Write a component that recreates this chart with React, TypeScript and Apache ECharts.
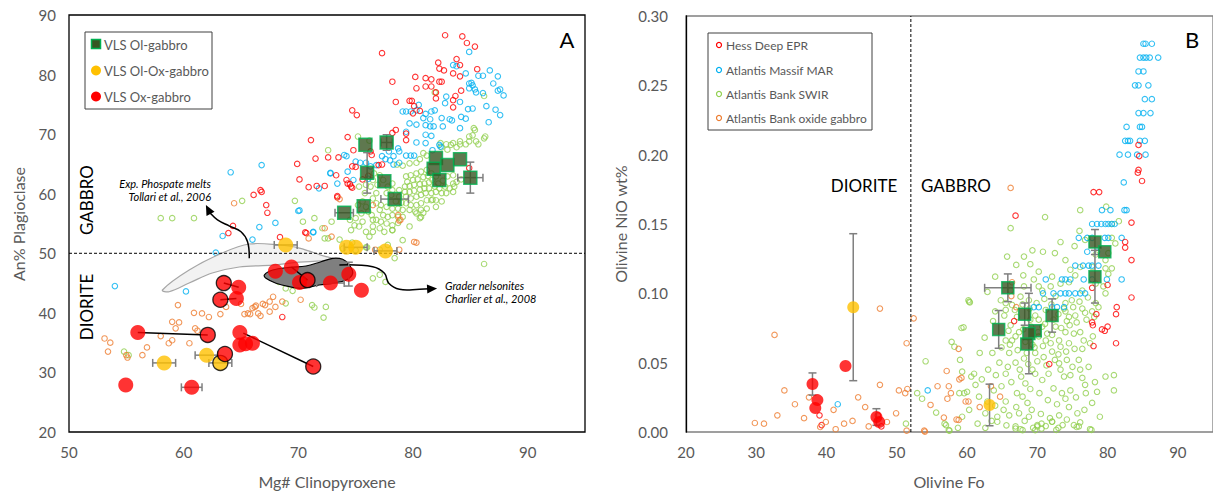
import React, { useEffect, useRef } from "react";
import * as echarts from "echarts";

const FONT = "Lato, 'Open Sans', sans-serif";
const C_RED = "#FF0000";
const C_BLUE = "#00B0F0";
const C_GREEN = "#92D050";
const C_ORANGE = "#ED7D31";
const C_YELLOW = "#FFC000";
const C_SQ = "#375623";
const C_SQB = "#00B050";
const C_ERR = "#7F7F7F";
const C_TXT = "#595959";

// ---------- Panel A : Mg# Cpx vs An% Plagioclase ----------
const A_X_TICKS = [50, 60, 70, 80, 90];
const A_Y_TICKS = [20, 30, 40, 50, 60, 70, 80, 90];

const A_HESS = [
  [82.8, 86.6], [84.3, 86.4], [84.7, 85.3], [85.4, 84.7], [77.3, 83.6], [83.8, 82.6], [82.2, 82.0], [84.1, 81.6],
  [82.3, 81.0], [82.7, 80.7], [83.5, 80.2], [84.1, 79.7], [85.6, 80.9], [80.2, 79.6], [81.1, 79.4], [81.6, 79.2],
  [82.3, 78.8], [82.5, 78.8], [78.2, 78.8], [80.3, 77.7], [81.1, 78.0], [81.6, 78.0], [82.0, 77.0], [82.0, 76.0],
  [83.7, 76.4], [83.5, 75.7], [84.2, 77.3], [79.7, 75.6], [79.9, 75.6], [78.5, 75.4], [83.5, 74.5], [80.1, 74.7],
  [80.6, 73.9], [74.7, 74.0], [75.1, 73.2], [80.0, 73.5], [78.5, 70.7], [78.2, 70.2], [79.4, 70.1], [79.4, 69.0],
  [71.1, 69.0], [74.3, 69.5], [74.8, 67.3], [71.5, 65.9], [72.6, 66.1], [73.5, 66.1], [69.9, 65.0], [76.3, 67.1],
  [76.4, 66.5], [74.7, 64.6], [75.0, 64.5], [77.0, 64.8], [77.3, 64.9], [73.3, 63.1], [70.1, 62.4], [74.2, 62.3],
  [70.9, 61.1], [71.6, 61.3], [72.3, 61.3], [74.3, 61.7], [74.6, 61.2], [75.6, 62.4], [76.1, 63.0], [73.4, 59.6],
  [70.7, 53.4], [84.9, 64.3], [66.1, 59.8], [66.7, 60.6], [66.8, 60.3], [67.2, 58.1], [67.3, 56.8], [64.3, 54.6],
  [63.9, 53.4], [70.6, 53.5], [68.4, 52.7], [73.4, 59.4], [74.5, 61.6], [74.7, 61.0], [68.6, 39.3]
];

const A_MAR = [
  [84.9, 83.8], [83.5, 81.6], [83.8, 81.4], [84.6, 80.2], [85.7, 79.8], [86.1, 79.8], [86.7, 80.7], [87.4, 79.7],
  [87.0, 78.5], [84.9, 78.5], [85.1, 78.6], [85.2, 78.2], [84.9, 77.7], [85.4, 77.5], [85.5, 77.0], [86.1, 76.9],
  [87.6, 77.5], [87.9, 76.5], [87.4, 77.3], [82.9, 76.3], [82.8, 75.2], [84.1, 75.4], [85.2, 74.3], [84.8, 74.2],
  [86.4, 74.7], [87.2, 74.1], [87.6, 73.2], [84.2, 72.9], [84.6, 72.6], [81.9, 74.0], [81.6, 73.8], [81.1, 73.4],
  [80.5, 74.9], [80.3, 74.0], [79.1, 73.8], [79.4, 73.8], [79.8, 73.8], [80.9, 72.7], [81.5, 72.5], [82.5, 72.7],
  [83.2, 72.5], [83.4, 72.3], [84.1, 71.0], [86.6, 72.0], [79.7, 71.8], [80.3, 71.6], [81.1, 71.5], [81.5, 71.3],
  [81.8, 71.3], [82.6, 71.3], [79.4, 70.4], [81.1, 69.9], [81.6, 69.7], [80.3, 68.6], [81.1, 68.5], [81.7, 67.3],
  [82.3, 68.2], [82.4, 67.9], [78.7, 67.6], [78.8, 67.1], [77.9, 67.1], [78.3, 66.3], [77.3, 66.3], [77.6, 65.8],
  [78.0, 65.6], [78.3, 64.9], [78.8, 65.2], [79.4, 66.4], [79.8, 66.4], [80.1, 66.4], [75.0, 65.4], [75.4, 65.2],
  [75.9, 65.2], [76.3, 64.6], [76.8, 64.8], [74.3, 63.7], [74.0, 66.5], [74.2, 66.3], [72.8, 63.5], [73.4, 61.7],
  [71.8, 60.9], [70.1, 57.2], [71.3, 53.6], [74.8, 62.3], [76.1, 62.5], [64.1, 63.6], [54.0, 44.5], [66.8, 64.8],
  [72.8, 63.4], [70.0, 57.1], [68.0, 55.1], [66.6, 54.4], [63.4, 52.9], [66.0, 52.3], [62.8, 50.1], [60.2, 43.6],
  [71.3, 53.5]
];

const A_SWIR = [
  [86.2, 76.4], [85.4, 70.7], [86.2, 69.3], [85.5, 68.8], [84.9, 68.8], [84.6, 68.3], [84.1, 68.8], [84.1, 68.3],
  [85.7, 68.3], [83.5, 68.5], [83.3, 68.2], [82.9, 68.3], [82.4, 68.5], [82.5, 67.8], [83.0, 67.4], [83.8, 67.8],
  [72.6, 67.3], [75.2, 69.6], [76.2, 68.9], [80.9, 66.8], [81.2, 66.4], [80.6, 65.8], [80.3, 65.2], [79.7, 65.1],
  [79.1, 64.7], [78.6, 64.9], [84.9, 69.6], [85.2, 69.8], [81.9, 77.0], [85.3, 71.0], [86.3, 69.6],
  [79.4, 62.9], [79.8, 63.1], [80.3, 63.4], [80.7, 63.7], [81.2, 64.0], [81.6, 63.4], [82.0, 62.9], [79.5, 62.0],
  [80.0, 62.3], [80.4, 62.4], [80.9, 62.8], [81.3, 63.0], [81.7, 62.3], [82.2, 61.7], [82.6, 62.2], [83.0, 62.9],
  [83.5, 63.1], [83.5, 61.7], [79.3, 61.2], [79.7, 61.3], [80.1, 61.5], [80.6, 61.6], [81.0, 61.7], [81.4, 61.9],
  [81.9, 61.2], [82.3, 60.9], [82.8, 61.2], [83.2, 60.9], [83.6, 61.2], [78.8, 60.6], [79.3, 60.3], [79.7, 60.3],
  [80.1, 60.5], [80.6, 60.7], [81.0, 60.9], [81.4, 60.9], [81.1, 60.1], [81.6, 60.1], [82.0, 60.3], [82.5, 60.1],
  [78.8, 59.5], [79.4, 59.5], [79.8, 59.2], [80.3, 59.5], [80.7, 59.8], [82.9, 60.1], [83.5, 60.3], [83.8, 62.0],
  [84.2, 62.4], [78.2, 61.7], [77.8, 61.2], [78.2, 60.6], [77.7, 60.1], [78.1, 59.8], [78.5, 58.7], [79.0, 58.5],
  [79.4, 58.4], [79.8, 58.1], [80.3, 58.1], [80.7, 58.4], [81.2, 58.9], [81.6, 58.9], [82.0, 58.9], [82.5, 58.7],
  [82.0, 57.8], [81.2, 57.5], [80.7, 57.3], [80.2, 57.0], [79.7, 57.3], [79.1, 57.3], [78.7, 57.5], [78.2, 57.5],
  [77.7, 57.8], [77.2, 58.1], [76.8, 58.4], [77.1, 57.3], [77.4, 56.4], [77.8, 56.1], [78.2, 56.4], [78.7, 56.1],
  [79.1, 56.1], [76.8, 55.6], [77.2, 55.3], [77.7, 55.0], [78.2, 54.7], [78.7, 55.1], [76.5, 54.5], [77.1, 54.2],
  [77.5, 53.6], [78.2, 53.9], [80.7, 56.1], [80.3, 56.7], [80.9, 56.8], [76.2, 52.8], [75.9, 53.6], [75.6, 55.3],
  [75.5, 56.7], [75.0, 55.9], [74.9, 54.7], [74.6, 53.9], [74.5, 55.6], [75.2, 58.1], [75.6, 58.7], [75.9, 57.8],
  [76.4, 56.4], [76.1, 57.0], [76.5, 59.2], [76.8, 60.1], [76.3, 61.2], [75.9, 61.5], [75.3, 61.2], [75.8, 60.1],
  [77.1, 63.1], [76.6, 63.4], [76.5, 62.3], [76.9, 61.5], [77.4, 62.3],
  [58.0, 55.9], [59.0, 55.9], [60.9, 55.9], [65.1, 58.8], [69.7, 58.8], [70.4, 55.3], [71.4, 55.9], [72.1, 54.2],
  [72.9, 55.3], [68.0, 46.6], [68.3, 45.2], [69.5, 43.7], [71.2, 41.3], [72.4, 41.0], [77.1, 46.4], [77.6, 45.2],
  [78.4, 49.2], [77.1, 50.6], [73.9, 50.8], [72.6, 52.5], [75.0, 50.5], [76.0, 51.0], [72.3, 52.5], [73.6, 52.3],
  [74.7, 51.8], [75.9, 51.0], [77.8, 51.4], [79.1, 52.2], [76.5, 53.6], [75.3, 54.5], [78.2, 53.9], [79.7, 54.5],
  [80.6, 55.9], [81.7, 59.0], [76.5, 55.6], [69.8, 44.7], [68.9, 44.1], [76.5, 45.8], [54.8, 33.5], [55.2, 32.9],
  [68.9, 41.6], [71.4, 40.9], [72.2, 39.2], [86.2, 48.2]
];

const A_OXIDE = [
  [59.5, 41.3], [60.9, 40.0], [61.6, 39.9], [62.2, 39.3], [63.2, 39.8], [63.7, 41.0], [65.0, 41.5], [65.3, 39.8],
  [65.6, 39.9], [65.8, 39.8], [66.0, 40.8], [66.3, 41.2], [66.5, 39.9], [66.7, 39.5], [66.9, 41.5], [67.5, 40.2],
  [67.5, 41.9], [68.0, 41.0], [59.0, 38.5], [59.6, 38.4], [59.3, 37.4], [61.0, 37.4], [61.2, 37.0], [58.0, 36.1],
  [59.0, 35.4], [58.7, 34.9], [60.5, 34.9], [53.1, 35.7], [53.6, 35.0], [53.4, 33.5], [55.0, 32.9], [55.1, 32.5],
  [56.4, 32.9], [56.8, 34.2], [70.2, 42.2], [64.4, 58.4], [70.9, 52.5], [72.9, 52.8], [80.1, 51.9], [78.8, 55.5],
  [67.8, 42.7], [67.1, 41.3], [66.2, 41.0], [68.6, 41.9], [74.2, 46.4], [76.7, 50.6], [73.6, 59.1], [78.7, 56.4],
  [78.9, 55.6], [80.3, 51.8], [72.3, 54.2], [76.5, 58.1], [78.8, 50.6]
];

// VLS samples : [x, y, xErr, yErr, blackOutline]
const A_OL_GABBRO = [
  [75.85, 68.2, 0, 0, 0], [77.7, 68.6, 0.5, 1.3, 0], [76.0, 63.5, 0, 3.4, 0], [77.5, 62.1, 0, 0, 0],
  [78.4, 59.1, 1.2, 0, 0], [75.7, 57.9, 0, 0, 0], [74.0, 56.8, 0.8, 0, 0], [82.0, 66.0, 0, 0, 0],
  [81.8, 64.2, 0, 0, 0], [83.0, 64.8, 0, 0, 0], [84.1, 65.8, 0, 0, 0], [82.3, 62.3, 0, 0, 0],
  [85.0, 62.7, 1.1, 2.6, 0]
];
const A_OL_OX_GABBRO = [
  [68.9, 51.4, 1.0, 0, 0], [74.2, 51.0, 0, 0, 0], [75.0, 51.0, 1.0, 0, 0], [77.6, 50.4, 1.0, 0, 0],
  [58.3, 31.6, 1.0, 0, 0], [62.0, 32.9, 1.0, 0, 0], [63.2, 31.6, 1.0, 0, 1]
];
const A_OX_GABBRO = [
  [68.0, 47.0, 0, 0, 0], [69.4, 47.7, 0, 0, 0], [70.1, 45.1, 0, 0, 0], [70.8, 45.5, 0, 0, 1],
  [72.8, 45.0, 1.2, 0, 0], [74.4, 46.5, 0, 2.0, 0], [75.5, 43.8, 0, 0, 0], [63.5, 45.0, 0, 0, 1],
  [64.8, 44.3, 0, 0, 0], [63.2, 42.2, 0, 0, 1], [64.6, 42.4, 0, 0, 0], [56.0, 36.7, 0, 0, 0],
  [62.1, 36.3, 0, 0, 1], [64.9, 36.7, 0, 0, 0], [64.9, 34.6, 0, 0, 0], [65.4, 34.8, 0, 0, 0],
  [66.0, 34.9, 0, 0, 0], [63.6, 33.1, 0, 0, 1], [71.3, 31.0, 0, 0, 1], [54.95, 27.9, 0, 0, 0],
  [60.7, 27.5, 0.9, 0, 0]
];
// tie lines between paired analyses [x1, y1, x2, y2]
const A_TIES = [
  [56.0, 36.7, 62.1, 36.3], [65.2, 36.6, 71.3, 31.0], [63.5, 45.0, 64.8, 44.3],
  [63.2, 42.2, 64.6, 42.4], [69.4, 47.7, 70.8, 45.5]
];
// fields (data coordinates)
const TOLLARI_FIELD = [
  [58.15, 43.84], [60.48, 47.19], [63.36, 50.05], [65.72, 51.56], [68.34, 51.39], [70.09, 50.88],
  [72.42, 49.43], [73.7, 48.8], [72.42, 48.75], [70.09, 48.5], [67.73, 48.0], [64.85, 47.7],
  [62.49, 46.69], [60.48, 45.01], [58.73, 43.55]
];
const GRADER_FIELD = [
  [67.03, 46.35], [67.76, 47.19], [69.21, 47.64], [70.67, 47.86], [71.98, 48.58], [73.0, 49.16],
  [73.87, 48.99], [74.45, 48.03], [74.74, 46.64], [74.17, 45.51], [73.0, 44.96], [71.83, 44.68],
  [70.38, 44.12], [69.21, 44.39], [68.05, 44.96], [67.18, 45.8]
];
const ARROW_TOLLARI = [
  [65.72, 49.16], [65.57, 51.94], [65.0, 53.62], [64.0, 54.57], [62.95, 55.59], [62.29, 56.8], [61.94, 58.1]
];
const ARROW_GRADER = [
  [73.58, 48.03], [76.49, 47.75], [77.51, 46.64], [77.89, 44.96], [78.82, 43.95], [80.57, 43.95], [82.1, 44.1]
];
const A_DIVIDE = 50;

// ---------- Panel B : Olivine Fo vs NiO ----------
const B_X_TICKS = [20, 30, 40, 50, 60, 70, 80, 90];
const B_Y_TICKS = [0, 0.05, 0.1, 0.15, 0.2, 0.25, 0.3];

const B_HESS = [
  [84.4, 0.207], [84.5, 0.199], [84.3, 0.187], [84.4, 0.189], [84.9, 0.181], [78.0, 0.173], [78.8, 0.173],
  [66.9, 0.156], [83.4, 0.151], [82.5, 0.137], [82.5, 0.133], [83.4, 0.124], [77.8, 0.104], [80.0, 0.106],
  [83.4, 0.097], [81.3, 0.090], [81.2, 0.085], [78.4, 0.085], [77.8, 0.079], [77.9, 0.077], [79.2, 0.074],
  [80.0, 0.076], [79.6, 0.073], [81.2, 0.064], [78.0, 0.062], [71.7, 0.049], [66.7, 0.080],
  [39.0, 0.012], [39.3, 0.005], [47.3, 0.012], [47.8, 0.004]
];

const B_MAR = [
  [85.1, 0.28], [85.4, 0.28], [86.3, 0.28],
  [84.6, 0.27], [85.1, 0.27], [85.5, 0.27], [86.0, 0.27], [87.2, 0.27],
  [84.4, 0.26], [85.1, 0.26],
  [83.9, 0.25], [84.4, 0.25], [85.8, 0.25],
  [85.3, 0.24], [86.3, 0.24],
  [84.4, 0.23], [85.1, 0.23], [86.1, 0.23],
  [82.7, 0.22], [84.6, 0.22], [84.9, 0.22],
  [82.5, 0.21], [82.9, 0.21], [83.2, 0.21], [84.6, 0.21], [85.3, 0.21],
  [81.7, 0.20], [82.9, 0.20], [84.2, 0.20], [85.4, 0.20],
  [82.3, 0.18],
  [79.2, 0.16], [80.4, 0.16], [82.4, 0.16], [82.7, 0.16],
  [77.8, 0.15], [78.5, 0.15], [79.1, 0.15], [79.7, 0.15], [80.1, 0.15], [80.6, 0.15], [81.0, 0.15],
  [75.9, 0.14], [77.1, 0.14], [77.8, 0.14], [79.6, 0.14], [80.1, 0.14], [82.0, 0.14],
  [77.1, 0.13], [78.5, 0.13],
  [75.4, 0.12], [76.5, 0.12], [77.3, 0.12], [77.8, 0.12], [78.7, 0.12],
  [71.2, 0.11], [73.5, 0.11], [74.0, 0.11], [74.7, 0.11], [76.6, 0.11], [77.8, 0.11], [79.9, 0.11], [82.0, 0.11],
  [70.8, 0.10], [72.3, 0.10], [73.3, 0.10], [74.0, 0.10], [74.5, 0.10], [75.4, 0.10], [76.1, 0.10], [76.8, 0.10],
  [69.5, 0.09], [70.2, 0.09], [72.1, 0.09], [72.8, 0.09], [73.8, 0.09],
  [54.4, 0.030], [41.6, 0.020]
];

const B_SWIR = [
  [76.1, 0.160], [79.8, 0.1625], [81.6, 0.152], [80.6, 0.150], [71.1, 0.155], [66.2, 0.147], [76.0, 0.145],
  [75.3, 0.134], [73.3, 0.137], [69.3, 0.131], [70.8, 0.130], [72.5, 0.129], [68.1, 0.1265], [65.7, 0.1265],
  [67.0, 0.1205], [69.0, 0.121], [70.2, 0.1156], [68.0, 0.113], [69.5, 0.110], [64.0, 0.112], [62.9, 0.101],
  [60.2, 0.095], [60.4, 0.0935], [65.5, 0.093], [66.4, 0.0916], [67.6, 0.0976], [70.2, 0.105], [71.9, 0.105],
  [73.3, 0.107], [74.5, 0.108], [75.4, 0.113], [76.1, 0.119], [77.8, 0.119], [79.7, 0.118], [80.6, 0.118],
  [81.1, 0.136], [80.1, 0.129], [80.1, 0.114], [79.4, 0.105], [76.4, 0.102], [74.9, 0.095], [73.8, 0.089],
  [71.2, 0.088], [69.7, 0.084], [67.1, 0.083], [66.2, 0.077], [67.4, 0.072], [66.4, 0.066], [68.3, 0.065],
  [70.2, 0.069], [71.4, 0.071], [72.6, 0.076], [74.2, 0.080], [75.4, 0.084], [76.8, 0.086], [78.3, 0.093],
  [77.8, 0.087], [76.1, 0.072], [75.2, 0.071], [77.5, 0.064], [76.4, 0.060], [74.5, 0.064], [73.3, 0.0615],
  [72.1, 0.058], [70.9, 0.054], [69.7, 0.057], [68.1, 0.053], [66.9, 0.050], [65.5, 0.042], [64.1, 0.041],
  [63.6, 0.057], [59.3, 0.0435], [61.0, 0.042], [61.2, 0.034], [60.0, 0.029], [61.7, 0.0255], [65.5, 0.022],
  [65.2, 0.016], [64.3, 0.011], [62.6, 0.0135], [67.1, 0.028], [67.9, 0.0255], [68.6, 0.021], [67.4, 0.0135],
  [68.8, 0.011], [70.0, 0.004], [70.6, 0.006], [71.2, 0.0043], [69.7, 0.0014], [66.9, 0.004], [67.9, 0.0014],
  [72.1, 0.0075], [73.1, 0.012], [74.5, 0.018], [75.7, 0.0135], [75.9, 0.004], [75.2, 0.005], [77.8, 0.021],
  [77.5, 0.002], [76.8, 0.034], [74.7, 0.030], [73.5, 0.028], [72.3, 0.0315], [70.7, 0.0375], [69.7, 0.042],
  [71.6, 0.042], [73.3, 0.045], [74.7, 0.041], [76.1, 0.045], [77.3, 0.047], [79.7, 0.040], [80.9, 0.030],
  [74.2, 0.052], [75.9, 0.052], [73.1, 0.0495], [69.3, 0.045], [68.3, 0.035], [60.3, 0.016], [59.3, 0.011],
  [57.0, 0.005], [57.4, 0.0014], [55.6, 0.014], [53.6, 0.024], [52.9, 0.028], [51.3, 0.006], [58.9, 0.028],
  [59.6, 0.028], [54.1, 0.051], [57.8, 0.065], [58.2, 0.0615], [59.2, 0.075], [59.5, 0.0755], [60.3, 0.094],
  [65.5, 0.066], [66.0, 0.057], [69.3, 0.063], [70.7, 0.076], [70.2, 0.081], [69.0, 0.081], [65.5, 0.088],
  [71.2, 0.066], [73.1, 0.066], [72.1, 0.070], [74.0, 0.072], [74.5, 0.083], [76.4, 0.089], [74.0, 0.093],
  [72.6, 0.098], [70.7, 0.102], [68.8, 0.095], [66.2, 0.102], [68.1, 0.105], [79.7, 0.100], [78.7, 0.090],
  [80.9, 0.041], [78.3, 0.107], [79.7, 0.124], [80.6, 0.140], [78.3, 0.128], [76.8, 0.1385], [74.7, 0.117],
  [74.0, 0.124], [72.1, 0.112],
  [56.8, 0.006], [57.5, 0.001], [58.7, 0.003], [64.3, 0.0074], [65.6, 0.0048], [66.9, 0.0025], [67.6, 0.002],
  [69.4, 0.003], [70.0, 0.005], [70.6, 0.0025], [72.1, 0.0074], [72.7, 0.0015], [73.6, 0.005], [75.6, 0.0036],
  [76.1, 0.007], [77.7, 0.0015],
  [64.8, 0.095], [65.3, 0.084], [66.8, 0.088], [67.9, 0.092], [68.9, 0.089], [69.9, 0.093], [71.0, 0.096],
  [72.0, 0.092], [73.0, 0.085], [74.0, 0.087], [75.1, 0.090], [76.0, 0.094], [77.2, 0.097], [65.9, 0.073],
  [66.9, 0.069], [68.0, 0.074], [69.1, 0.076], [70.1, 0.072], [71.1, 0.078], [72.3, 0.081], [73.4, 0.075],
  [74.6, 0.077], [75.6, 0.079], [77.0, 0.081], [78.1, 0.083], [64.9, 0.061], [66.1, 0.063], [67.2, 0.059],
  [68.5, 0.057], [69.6, 0.061], [70.8, 0.062], [71.9, 0.064], [73.0, 0.056], [74.1, 0.058], [75.3, 0.060],
  [76.6, 0.066], [77.9, 0.069], [64.6, 0.050], [65.8, 0.047], [67.5, 0.045], [68.7, 0.049], [70.0, 0.051],
  [71.3, 0.048], [72.5, 0.052], [73.8, 0.040], [75.0, 0.047], [76.4, 0.039], [78.2, 0.036], [63.0, 0.045],
  [62.1, 0.038], [63.8, 0.030], [64.9, 0.033], [66.3, 0.036], [67.7, 0.040], [69.0, 0.031], [70.3, 0.028],
  [71.5, 0.023], [72.8, 0.020], [74.0, 0.024], [75.5, 0.025], [76.9, 0.028], [78.5, 0.029], [62.9, 0.022],
  [64.0, 0.019], [66.0, 0.012], [67.0, 0.018], [68.2, 0.008], [69.2, 0.016], [70.5, 0.013], [71.8, 0.010],
  [73.0, 0.003], [74.2, 0.009], [76.7, 0.016], [78.9, 0.011], [61.5, 0.006], [62.6, 0.003], [63.5, 0.008],
  [60.6, 0.040], [59.0, 0.052], [61.8, 0.057], [62.5, 0.068], [63.7, 0.080], [64.0, 0.087]
];

const B_OXIDE = [
  [66.2, 0.176], [52.4, 0.082], [51.4, 0.064], [47.6, 0.089], [29.8, 0.0065], [31.1, 0.006], [39.1, 0.0036],
  [39.9, 0.0072], [41.3, 0.002], [43.7, 0.008], [48.6, 0.0072], [51.4, 0.001], [54.0, 0.0003], [57.1, 0.044],
  [58.9, 0.038], [59.2, 0.039], [55.8, 0.033], [57.4, 0.033], [57.7, 0.028], [57.2, 0.024], [54.8, 0.0195],
  [56.7, 0.0104], [58.8, 0.0087], [53.9, 0.001], [49.9, 0.0135], [50.3, 0.030], [51.2, 0.028], [51.5, 0.031],
  [63.4, 0.033], [64.7, 0.0255], [61.8, 0.018], [59.8, 0.022], [60.2, 0.022], [58.5, 0.009], [66.4, 0.108],
  [67.0, 0.090], [66.3, 0.098], [58.8, 0.060], [47.6, 0.034],
  [32.6, 0.070], [34.0, 0.030], [35.5, 0.020], [33.0, 0.012], [36.8, 0.010], [41.0, 0.016], [44.5, 0.025],
  [45.5, 0.018], [42.5, 0.006], [37.5, 0.025], [46.0, 0.004]
];

const B_OL_GABBRO = [
  [78.2, 0.137, 0, 0.009, 0], [79.6, 0.130, 0, 0, 0], [78.2, 0.112, 0, 0.019, 0], [65.8, 0.104, 3.3, 0.010, 0],
  [68.2, 0.085, 0, 0.008, 0], [72.1, 0.084, 0, 0.012, 0], [64.5, 0.074, 0, 0.0136, 0], [69.7, 0.073, 0, 0, 0],
  [68.8, 0.071, 0, 0.029, 0], [68.5, 0.0635, 0, 0, 0]
];
const B_OL_OX_GABBRO = [
  [63.2, 0.0195, 0, 0.015, 0], [43.8, 0.090, 0, 0.053, 0]
];
const B_OX_GABBRO = [
  [38.0, 0.0346, 0, 0.008, 0], [38.7, 0.023, 0, 0, 0], [38.4, 0.0173, 0, 0, 0], [42.7, 0.0476, 0, 0, 0],
  [47.1, 0.0108, 0, 0.006, 0], [47.5, 0.0072, 0, 0, 0]
];
const B_DIVIDE = 52;

const SHAPES = [
  { kind: "poly", pts: TOLLARI_FIELD, fill: "#F2F2F2", stroke: "#A6A6A6" },
  { kind: "poly", pts: GRADER_FIELD, fill: "#7F7F7F", stroke: "#000000" },
  { kind: "arrow", pts: ARROW_TOLLARI },
  { kind: "arrow", pts: ARROW_GRADER }
];

function openSeries(name: string, data: number[][], color: string, idx: number) {
  return {
    type: "scatter", name, xAxisIndex: idx, yAxisIndex: idx, data, symbol: "circle", symbolSize: 5.5,
    itemStyle: { color: "rgba(255,255,255,0)", borderColor: color, borderWidth: 1.1 },
    silent: true, z: 2
  };
}

function errorSeries(rows: number[][], idx: number) {
  return {
    type: "custom", xAxisIndex: idx, yAxisIndex: idx, silent: true, z: 4,
    data: rows.filter((r) => r[2] > 0 || r[3] > 0).map((r) => [r[0], r[1], r[2], r[3]]),
    encode: { x: 0, y: 1 },
    renderItem: (params: any, api: any) => {
      const x = api.value(0), y = api.value(1), xe = api.value(2), ye = api.value(3);
      const st = { stroke: C_ERR, lineWidth: 1.5 };
      const ch: any[] = [];
      const seg = (x1: number, y1: number, x2: number, y2: number) =>
        ch.push({ type: "line", shape: { x1, y1, x2, y2 }, style: st });
      if (xe > 0) {
        const a = api.coord([x - xe, y]), b = api.coord([x + xe, y]);
        seg(a[0], a[1], b[0], b[1]);
        seg(a[0], a[1] - 4, a[0], a[1] + 4);
        seg(b[0], b[1] - 4, b[0], b[1] + 4);
      }
      if (ye > 0) {
        const a = api.coord([x, y - ye]), b = api.coord([x, y + ye]);
        seg(a[0], a[1], b[0], b[1]);
        seg(a[0] - 4, a[1], a[0] + 4, a[1]);
        seg(b[0] - 4, b[1], b[0] + 4, b[1]);
      }
      return { type: "group", children: ch };
    }
  };
}

function markerSeries(rows: number[][], idx: number, symbol: string, size: number, fill: string, border: string, bw: number) {
  return {
    type: "scatter", xAxisIndex: idx, yAxisIndex: idx, symbol, symbolSize: size, silent: true, z: 6,
    data: rows.map((r) => ({
      value: [r[0], r[1]],
      itemStyle: r[4]
        ? { color: fill, borderColor: "#000", borderWidth: 1.3 }
        : { color: fill, borderColor: border, borderWidth: bw }
    }))
  };
}

export default function App() {
  const ref = useRef<HTMLDivElement>(null);
  useEffect(() => {
    const chart = echarts.init(ref.current!, null, { renderer: "svg" });
    const axisLabel = { color: C_TXT, fontSize: 15, fontFamily: FONT };
    const option: any = {
      animation: false,
      grid: [
        { left: 69, top: 15, width: 516, height: 417, show: true, borderColor: "#000", borderWidth: 1.3, backgroundColor: "#fff" },
        { left: 686, top: 16, width: 527, height: 416, show: true, borderColor: "#808080", borderWidth: 1.3, backgroundColor: "#fff" }
      ],
      xAxis: [
        {
          gridIndex: 0, type: "value", min: A_X_TICKS[0], max: 95, interval: 10,
          axisLine: { show: false }, axisTick: { show: false }, splitLine: { show: false },
          axisLabel: { ...axisLabel, margin: 12, showMaxLabel: false }
        },
        {
          gridIndex: 1, type: "value", min: B_X_TICKS[0], max: 95, interval: 10,
          axisLine: { show: false }, axisTick: { show: false }, splitLine: { show: false },
          axisLabel: { ...axisLabel, margin: 12, showMaxLabel: false }
        }
      ],
      yAxis: [
        {
          gridIndex: 0, type: "value", min: A_Y_TICKS[0], max: A_Y_TICKS[A_Y_TICKS.length - 1], interval: 10,
          axisLine: { show: false }, axisTick: { show: false }, splitLine: { show: false },
          axisLabel: { ...axisLabel, margin: 13 }
        },
        {
          gridIndex: 1, type: "value", min: B_Y_TICKS[0], max: B_Y_TICKS[B_Y_TICKS.length - 1], interval: 0.05,
          axisLine: { show: true, lineStyle: { color: "#000", width: 1.3 } }, axisTick: { show: false }, splitLine: { show: false },
          axisLabel: { ...axisLabel, margin: 18, formatter: (v: number) => v.toFixed(2) }
        }
      ],
      series: [
        openSeries("Atlantis Bank SWIR", A_SWIR, C_GREEN, 0),
        openSeries("Atlantis Massif MAR", A_MAR, C_BLUE, 0),
        openSeries("Hess Deep EPR", A_HESS, C_RED, 0),
        openSeries("Atlantis Bank oxide gabbro", A_OXIDE, C_ORANGE, 0),
        openSeries("Atlantis Bank SWIR", B_SWIR, C_GREEN, 1),
        openSeries("Atlantis Massif MAR", B_MAR, C_BLUE, 1),
        openSeries("Hess Deep EPR", B_HESS, C_RED, 1),
        openSeries("Atlantis Bank oxide gabbro", B_OXIDE, C_ORANGE, 1),
        {
          type: "line", xAxisIndex: 0, yAxisIndex: 0, data: [[50, A_DIVIDE], [95, A_DIVIDE]], symbol: "none", silent: true, z: 3,
          lineStyle: { color: "#000", width: 1, type: [3, 2] }
        },
        {
          type: "line", xAxisIndex: 1, yAxisIndex: 1, data: [[B_DIVIDE, 0], [B_DIVIDE, 0.3]], symbol: "none", silent: true, z: 3,
          lineStyle: { color: "#000", width: 1, type: [3, 2] }
        },
        {
          type: "custom", xAxisIndex: 0, yAxisIndex: 0, silent: true, z: 3,
          data: SHAPES.map((s, i) => [s.pts[0][0], s.pts[0][1], i]),
          encode: { x: 0, y: 1 },
          renderItem: (params: any, api: any) => {
            const s: any = SHAPES[params.dataIndex];
            const px = s.pts.map((p: number[]) => api.coord(p));
            if (s.kind === "poly") {
              return { type: "polygon", shape: { points: px, smooth: 0.35 }, style: { fill: s.fill, stroke: s.stroke, lineWidth: 1.2 } };
            }
            const tip = px[px.length - 1], prev = px[px.length - 2];
            let dx = tip[0] - prev[0], dy = tip[1] - prev[1];
            const len = Math.hypot(dx, dy) || 1;
            dx /= len; dy /= len;
            const L = 10, W = 4.5;
            const head = [
              tip,
              [tip[0] - dx * L - dy * W, tip[1] - dy * L + dx * W],
              [tip[0] - dx * L + dy * W, tip[1] - dy * L - dx * W]
            ];
            const body = px.slice(0, -1).concat([[tip[0] - dx * L * 0.7, tip[1] - dy * L * 0.7]]);
            return {
              type: "group",
              children: [
                { type: "polyline", shape: { points: body, smooth: 0.4 }, style: { stroke: "#000", lineWidth: 1.5, fill: "none" } },
                { type: "polygon", shape: { points: head }, style: { fill: "#000" } }
              ]
            };
          }
        },
        {
          type: "custom", xAxisIndex: 0, yAxisIndex: 0, silent: true, z: 5,
          data: A_TIES, encode: { x: 0, y: 1 },
          renderItem: (params: any, api: any) => {
            const a = api.coord([api.value(0), api.value(1)]);
            const b = api.coord([api.value(2), api.value(3)]);
            return { type: "line", shape: { x1: a[0], y1: a[1], x2: b[0], y2: b[1] }, style: { stroke: "#000", lineWidth: 1.5 } };
          }
        },
        errorSeries(A_OL_GABBRO, 0),
        errorSeries(A_OL_OX_GABBRO, 0),
        errorSeries(A_OX_GABBRO, 0),
        errorSeries(B_OL_GABBRO, 1),
        errorSeries(B_OL_OX_GABBRO, 1),
        errorSeries(B_OX_GABBRO, 1),
        markerSeries(A_OL_GABBRO, 0, "rect", 13, C_SQ, C_SQB, 1.5),
        markerSeries(A_OL_OX_GABBRO, 0, "circle", 15, C_YELLOW, C_YELLOW, 0),
        markerSeries(A_OX_GABBRO, 0, "circle", 15, C_RED, C_RED, 0),
        markerSeries(B_OL_GABBRO, 1, "rect", 12, C_SQ, C_SQB, 1.5),
        markerSeries(B_OL_OX_GABBRO, 1, "circle", 12, C_YELLOW, C_YELLOW, 0),
        markerSeries(B_OX_GABBRO, 1, "circle", 12, C_RED, C_RED, 0)
      ],
      graphic: [
        // axis titles
        { type: "text", x: 327, y: 481, style: { text: "Mg# Clinopyroxene", fill: C_TXT, fontSize: 16, fontFamily: FONT, align: "center", verticalAlign: "middle" } },
        { type: "text", x: 949, y: 481, style: { text: "Olivine Fo", fill: C_TXT, fontSize: 16, fontFamily: FONT, align: "center", verticalAlign: "middle" } },
        { type: "text", x: 18, y: 224, rotation: Math.PI / 2, style: { text: "An% Plagioclase", fill: C_TXT, fontSize: 16, fontFamily: FONT, align: "center", verticalAlign: "middle" } },
        { type: "text", x: 620, y: 224, rotation: Math.PI / 2, style: { text: "Olivine NiO wt%", fill: C_TXT, fontSize: 16, fontFamily: FONT, align: "center", verticalAlign: "middle" } },
        // panel letters
        { type: "text", x: 567, y: 39, style: { text: "A", fill: "#000", fontSize: 22, fontFamily: FONT, align: "center", verticalAlign: "middle" } },
        { type: "text", x: 1192, y: 39, style: { text: "B", fill: "#000", fontSize: 22, fontFamily: FONT, align: "center", verticalAlign: "middle" } },
        // field labels
        { type: "text", x: 86, y: 200, rotation: Math.PI / 2, style: { text: "GABBRO", fill: "#000", fontSize: 17, fontFamily: FONT, align: "center", verticalAlign: "middle" } },
        { type: "text", x: 86, y: 307, rotation: Math.PI / 2, style: { text: "DIORITE", fill: "#000", fontSize: 17, fontFamily: FONT, align: "center", verticalAlign: "middle" } },
        { type: "text", x: 864, y: 185, style: { text: "DIORITE", fill: "#000", fontSize: 17, fontFamily: FONT, align: "center", verticalAlign: "middle" } },
        { type: "text", x: 956, y: 185, style: { text: "GABBRO", fill: "#000", fontSize: 17, fontFamily: FONT, align: "center", verticalAlign: "middle" } },
        // annotations
        { type: "text", x: 211, y: 183, style: { text: "Exp. Phospate melts", fill: "#000", fontSize: 11, fontStyle: "italic", fontFamily: FONT, align: "right", verticalAlign: "middle" } },
        { type: "text", x: 211, y: 196, style: { text: "Tollari et al., 2006", fill: "#000", fontSize: 11, fontStyle: "italic", fontFamily: FONT, align: "right", verticalAlign: "middle" } },
        { type: "text", x: 445, y: 285, style: { text: "Grader nelsonites", fill: "#000", fontSize: 11, fontStyle: "italic", fontFamily: FONT, align: "left", verticalAlign: "middle" } },
        { type: "text", x: 445, y: 298, style: { text: "Charlier et al., 2008", fill: "#000", fontSize: 11, fontStyle: "italic", fontFamily: FONT, align: "left", verticalAlign: "middle" } },
        // legend A
        { type: "rect", shape: { x: 85, y: 32, width: 127, height: 77 }, style: { fill: "#fff", stroke: "#404040", lineWidth: 1 }, z: 10 },
        { type: "rect", shape: { x: 91.5, y: 39.5, width: 9, height: 9 }, style: { fill: C_SQ, stroke: C_SQB, lineWidth: 1.5 }, z: 11 },
        { type: "circle", shape: { cx: 96, cy: 70.5, r: 5 }, style: { fill: C_YELLOW }, z: 11 },
        { type: "circle", shape: { cx: 96, cy: 96.5, r: 5 }, style: { fill: C_RED }, z: 11 },
        { type: "text", x: 104, y: 44.5, z: 11, style: { text: "VLS Ol-gabbro", fill: C_TXT, fontSize: 13, fontFamily: FONT, verticalAlign: "middle" } },
        { type: "text", x: 104, y: 70.5, z: 11, style: { text: "VLS Ol-Ox-gabbro", fill: C_TXT, fontSize: 13, fontFamily: FONT, verticalAlign: "middle" } },
        { type: "text", x: 104, y: 96.5, z: 11, style: { text: "VLS Ox-gabbro", fill: C_TXT, fontSize: 13, fontFamily: FONT, verticalAlign: "middle" } },
        // legend B
        { type: "rect", shape: { x: 708, y: 33, width: 164, height: 97 }, style: { fill: "#fff", stroke: "#404040", lineWidth: 1 }, z: 10 },
        { type: "circle", shape: { cx: 719, cy: 45, r: 2.5 }, style: { fill: "#fff", stroke: C_RED, lineWidth: 1.2 }, z: 11 },
        { type: "circle", shape: { cx: 719, cy: 70, r: 2.5 }, style: { fill: "#fff", stroke: C_BLUE, lineWidth: 1.2 }, z: 11 },
        { type: "circle", shape: { cx: 719, cy: 94, r: 2.5 }, style: { fill: "#fff", stroke: C_GREEN, lineWidth: 1.2 }, z: 11 },
        { type: "circle", shape: { cx: 719, cy: 118, r: 2.5 }, style: { fill: "#fff", stroke: C_ORANGE, lineWidth: 1.2 }, z: 11 },
        { type: "text", x: 726, y: 45, z: 11, style: { text: "Hess Deep EPR", fill: C_TXT, fontSize: 12, fontFamily: FONT, verticalAlign: "middle" } },
        { type: "text", x: 726, y: 70, z: 11, style: { text: "Atlantis Massif MAR", fill: C_TXT, fontSize: 12, fontFamily: FONT, verticalAlign: "middle" } },
        { type: "text", x: 726, y: 94, z: 11, style: { text: "Atlantis Bank SWIR", fill: C_TXT, fontSize: 12, fontFamily: FONT, verticalAlign: "middle" } },
        { type: "text", x: 726, y: 118, z: 11, style: { text: "Atlantis Bank oxide gabbro", fill: C_TXT, fontSize: 12, fontFamily: FONT, verticalAlign: "middle" } }
      ]
    };
    chart.setOption(option);
    return () => chart.dispose();
  }, []);
  return <div ref={ref} style={{ position: "absolute", left: 0, top: 0, width: 1213, height: 494, background: "#fff" }} />;
}
